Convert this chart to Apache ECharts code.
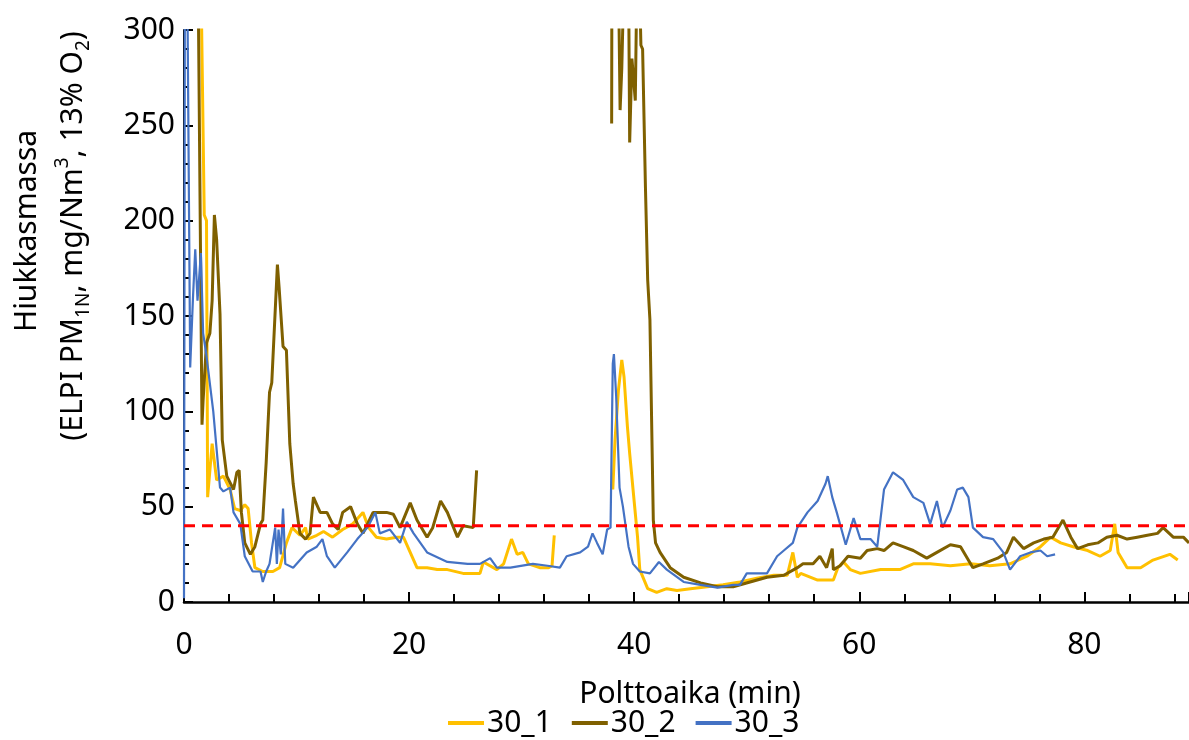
<!DOCTYPE html>
<html><head><meta charset="utf-8">
<script src="https://cdn.jsdelivr.net/npm/echarts@6/dist/echarts.min.js"></script>
<style>html,body{margin:0;padding:0;background:#fff}#c{width:1189px;height:740px}</style>
</head><body><div id="c"></div>
<script>
// 30_1 (yellow)
const t1=[1.5,1.8,2.0,2.1,2.5,2.9,3.5,4.1,4.5,5.0,5.4,5.7,6.0,6.3,7.0,7.9,8.5,9.1,9.6,10.3,10.8,11.0,11.8,12.4,13.2,14.1,15.0,15.9,16.4,17.1,18.0,18.9,19.5,20.1,20.7,21.6,22.5,23.4,24.8,26.3,26.6,27.8,28.4,29.1,29.6,30.1,30.6,31.6,32.4,32.7,32.9,33.0,38.1,38.3,38.6,38.9,39.1,39.4,39.6,39.9,40.3,40.5,41.2,42.0,42.9,43.8,45.0,46.5,47.9,49.4,50.9,52.4,53.6,54.1,54.5,54.8,56.3,57.7,58.1,58.6,59.2,60.1,61.9,63.6,64.8,66.3,68.1,69.9,71.6,73.4,74.9,76.1,77.0,77.9,79.0,80.3,81.4,82.3,82.7,83.0,83.8,85.0,86.1,87.6,88.3];
const v1=[330,203,200,55,83,64,66,59,49,48,51,49,31,18,16,16,18,31,39,35,39,33,35,37,34,38,41,47,39,34,33,34,34,26,18,18,17,17,15,15,21,17,20,33,25,26,20,18,18,19,35,null,59,85,111,127,118,92,78,59,34,17,7,5,7,6,7,8,9,10.5,12.5,14,14,26,13,15,11.5,11.5,18,21,17,15,17,17,20,20,19,20,19,20,24,29,34,31,29,27,24,27,41,26,18,18,22,25,22];
// 30_2 (brown)
const t2=[1.25,1.6,1.7,2.0,2.3,2.5,2.7,2.9,3.2,3.4,3.8,4.4,4.7,4.9,5.1,5.4,5.9,6.3,6.8,7.0,7.3,7.6,7.8,8.3,8.45,8.6,8.8,9.1,9.4,9.7,9.9,10.0,10.3,10.8,11.2,11.5,12.1,12.7,13.2,13.7,14.1,14.8,15.4,15.9,16.8,18.0,18.6,19.2,20.1,20.7,21.6,22.1,22.8,23.4,24.3,24.8,25.7,26.0,26.1,38.0,38.02,38.6,38.75,38.9,39.1,39.5,39.6,39.8,40.1,40.25,40.45,40.6,40.75,41.0,41.2,41.4,41.7,41.9,42.3,43.2,44.4,45.9,47.4,48.8,50.3,51.8,53.3,54.5,55.0,55.9,56.5,57.1,57.6,57.7,58.3,59.0,60.1,60.7,61.6,62.2,63.0,63.9,64.8,66.0,66.9,68.1,69.0,70.1,71.0,72.3,73.1,73.7,74.6,75.5,76.4,77.2,78.1,78.8,79.4,80.3,81.2,82.0,82.9,83.8,84.7,85.6,86.5,87.0,87.9,88.8,89.3];
const v2=[330,93,106,136,141,158,203,190,151,85,66,59,68,69,47,31,25,29,41,43,73,110,115,177,165,165,134,132,83,62,53,53,36,33,36,55,47,47,41,38,47,50,41,36,47,47,46,39,52,43,34,39,53,47,34,40,39,69,null,251,330,330,258,280,330,330,241,285,263,330,330,292,290,218,169,148,43,31,26,18,13,10,8,8,10.5,13,14,18,20,20,24,18,28,17,19,24,23,27,28,27,31,29,27,23,26,30,29,18,20,23,26,34,28,31,33,34,43,34,28,30,31,34,35,33,34,35,36,39,34,34,31];
// 30_3 (blue)
const t3=[0,0.08,0.3,0.55,0.8,1.0,1.2,1.5,1.7,2.0,2.6,3.2,3.5,4.1,4.4,5.0,5.4,6.1,6.8,7.0,7.3,7.6,8.1,8.25,8.4,8.6,8.8,9.0,9.7,10.9,11.8,12.3,12.7,13.4,14.5,15.4,16.3,17.0,17.4,18.3,19.2,19.8,20.4,21.6,23.4,25.2,26.3,27.2,27.8,29.0,31.0,32.3,33.4,34.0,35.2,35.9,36.3,36.7,37.2,37.6,37.9,38.1,38.2,38.4,38.7,39.0,39.5,39.9,40.5,41.4,42.2,42.9,44.4,45.9,47.4,48.8,49.4,50.0,51.8,52.7,53.3,54.1,54.5,55.4,56.3,57.0,57.2,57.6,58.0,58.8,59.5,60.1,61.0,61.6,62.2,63.0,63.9,64.8,65.7,66.3,66.9,67.4,68.1,68.7,69.2,69.7,70.1,71.0,71.9,72.8,73.4,74.3,75.2,76.1,76.7,77.4];
const v3=[2,330,320,123,160,185,158,183,141,129,100,60,58,60,47,41,24,16,16,10.5,16,20,39,20,38,25,49,20,18,26,29,33,24,18,26,33,39,47,36,38,31,42,36,26,21,20,20,23,18,18,20,19,18,24,26,29,36,31,25,38,39,125,130,108,60,50,29,20,16,15,21,17,10.5,9,7.5,9,9,15,15,24,27,31,39,47,53,62,66,55,47,30,44,33,33,29,59,68,64,55,52,41,53,39,48,59,60,55,39,34,33,26,17,24,26,27,24,25];
// limit line
const limitValue=40;
const xTicks=[0,20,40,60,80];
const yTicks=[0,50,100,150,200,250,300];

function pairs(t,v){return t.map((x,i)=>[x,v[i]]);}
const FONT='"Noto Sans", "Open Sans", sans-serif';
const FS=30;
const chart=echarts.init(document.getElementById('c'));
const option={
  animation:false,
  backgroundColor:'#fff',
  grid:{left:184,right:0,top:30,bottom:138},
  legend:{
    data:['30_1','30_2','30_3'],
    left:448, top:708, icon:'rect', itemWidth:36, itemHeight:4, itemGap:20,
    textStyle:{fontSize:FS,color:'#000',fontFamily:FONT,padding:[0,0,0,-2]}, padding:0
  },
  xAxis:{type:'value',min:0,max:89.3,interval:20,
    axisLine:{show:true,onZero:false,lineStyle:{color:'#000',width:2.5}},
    axisTick:{show:true,inside:true,length:10,lineStyle:{color:'#000',width:2}},
    minorTick:{show:true,splitNumber:5,length:8,lineStyle:{color:'#000',width:2}},
    splitLine:{show:false},
    axisLabel:{fontSize:FS,color:'#000',fontFamily:FONT,margin:28,showMaxLabel:false,
      formatter:v=>xTicks.includes(v)?String(v):''}
  },
  yAxis:{type:'value',min:0,max:300,interval:50,
    axisLine:{show:true,lineStyle:{color:'#000',width:2}},
    axisTick:{show:true,inside:true,length:9,lineStyle:{color:'#000',width:2}},
    minorTick:{show:true,splitNumber:5,length:5,lineStyle:{color:'#000',width:2}},
    splitLine:{show:false},
    axisLabel:{fontSize:FS,color:'#000',fontFamily:FONT,margin:9,
      formatter:v=>yTicks.includes(v)?String(v):''}
  },
  graphic:[
    {type:'text',x:27,y:231,rotation:Math.PI/2,
      style:{text:'Hiukkasmassa',fontSize:FS,fontFamily:FONT,fill:'#000',align:'center',verticalAlign:'middle'}},
    {type:'text',x:73,y:236,rotation:Math.PI/2,
      style:{text:'{m|(ELPI PM}{sb|1N}{m|, mg/Nm}{sp|3}{m|, 13% O}{sb|2}{m|)}',
        align:'center',verticalAlign:'middle',fill:'#000',
        rich:{m:{fontSize:FS,fontFamily:FONT,fill:'#000',lineHeight:40},
              sb:{fontSize:19,fontFamily:FONT,fill:'#000',verticalAlign:'bottom',lineHeight:24},
              sp:{fontSize:19,fontFamily:FONT,fill:'#000',verticalAlign:'top',lineHeight:24}}}},
    {type:'text',x:690,y:694,
      style:{text:'Polttoaika (min)',fontSize:FS,fontFamily:FONT,fill:'#000',align:'center',verticalAlign:'middle'}}
  ],
  series:[
    {name:'30_1',type:'line',data:pairs(t1,v1),showSymbol:false,symbol:'none',connectNulls:false,
      lineStyle:{color:'#FFC000',width:3},itemStyle:{color:'#FFC000'}},
    {name:'30_2',type:'line',data:pairs(t2,v2),showSymbol:false,symbol:'none',connectNulls:false,
      lineStyle:{color:'#7F6000',width:3},itemStyle:{color:'#7F6000'}},
    {name:'30_3',type:'line',data:pairs(t3,v3),showSymbol:false,symbol:'none',connectNulls:false,
      lineStyle:{color:'#4472C4',width:2.2},itemStyle:{color:'#4472C4'}},
    {name:'limit',type:'line',data:[[0,limitValue],[89.3,limitValue]],showSymbol:false,symbol:'none',
      lineStyle:{color:'#FF0000',width:3,type:[11,7]},silent:true}
  ]
};
chart.setOption(option);
</script></body></html>
